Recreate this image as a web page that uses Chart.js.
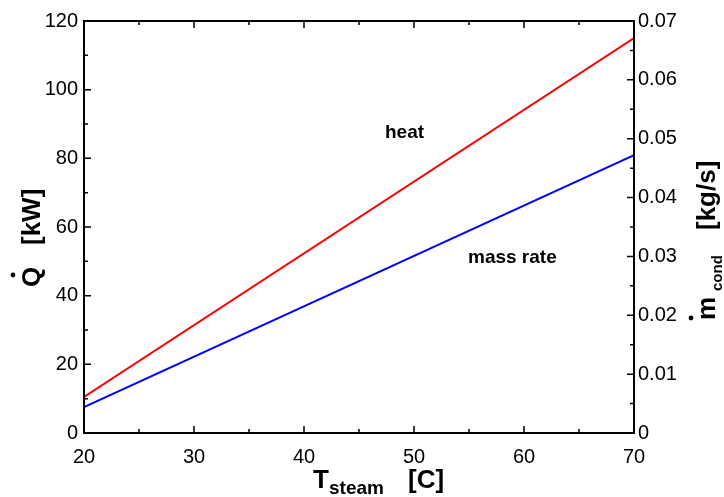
<!DOCTYPE html>
<html>
<head>
<meta charset="utf-8">
<script src="https://cdn.jsdelivr.net/npm/chart.js@4.4.0/dist/chart.umd.min.js"></script>
<style>
  html, body { margin: 0; padding: 0; background: #fff; }
  canvas { display: block; }
</style>
</head>
<body>
<canvas id="steamChart" width="724" height="497"></canvas>
<script>
// data
const tSteam = [20, 70];
const heatKW = [10.5, 115];
const massRate = [0.0044, 0.0472];

// tick labels
const xTicks = [20, 30, 40, 50, 60, 70];
const qTicks = [0, 20, 40, 60, 80, 100, 120];
const mTicks = [0, 0.01, 0.02, 0.03, 0.04, 0.05, 0.06, 0.07];

const FONT = '"Liberation Sans", Arial, sans-serif';

function setTicks(list) {
  return function (scale) {
    scale.ticks = list.map(v => ({ value: v }));
  };
}

// frame with inward ticks, minor ticks halfway between the major ones
const framePlugin = {
  id: 'frame',
  afterDatasetsDraw(chart) {
    const ctx = chart.ctx;
    const a = chart.chartArea;
    const sx = chart.scales.x, sq = chart.scales.y, sm = chart.scales.y2;
    const major = 7, minor = 4;
    ctx.save();
    ctx.strokeStyle = '#000';
    ctx.lineWidth = 2;
    ctx.strokeRect(a.left, a.top, a.right - a.left, a.bottom - a.top);
    ctx.lineWidth = 1.5;
    ctx.beginPath();
    function marks(list, fn) {
      list.forEach((v, i) => {
        fn(v, major);
        if (i < list.length - 1) fn((v + list[i + 1]) / 2, minor);
      });
    }
    marks(xTicks, (v, len) => {
      const px = sx.getPixelForValue(v);
      ctx.moveTo(px, a.bottom); ctx.lineTo(px, a.bottom - len);
      ctx.moveTo(px, a.top); ctx.lineTo(px, a.top + len);
    });
    marks(qTicks, (v, len) => {
      const py = sq.getPixelForValue(v);
      ctx.moveTo(a.left, py); ctx.lineTo(a.left + len, py);
    });
    marks(mTicks, (v, len) => {
      const py = sm.getPixelForValue(v);
      ctx.moveTo(a.right, py); ctx.lineTo(a.right - len, py);
    });
    ctx.stroke();
    ctx.restore();
  }
};

// axis titles with subscripts and dots, plus the two line labels
const textPlugin = {
  id: 'texts',
  afterDraw(chart) {
    const ctx = chart.ctx;
    ctx.save();
    ctx.fillStyle = '#000';
    ctx.textBaseline = 'alphabetic';
    ctx.textAlign = 'left';

    // x title
    ctx.font = 'bold 26px ' + FONT;
    ctx.fillText('T', 313, 488);
    ctx.font = 'bold 19px ' + FONT;
    ctx.fillText('steam', 329, 494);
    ctx.font = 'bold 26px ' + FONT;
    ctx.fillText('[C]', 408, 488);

    // left title, rotated
    ctx.save();
    ctx.translate(40, 287);
    ctx.rotate(-Math.PI / 2);
    ctx.font = 'bold 26px ' + FONT;
    ctx.fillText('Q', 0, 0);
    ctx.fillText('[kW]', 42, 0);
    ctx.beginPath();
    ctx.arc(12, -27, 2.4, 0, Math.PI * 2);
    ctx.fill();
    ctx.restore();

    // right title, rotated
    ctx.save();
    ctx.translate(715, 320);
    ctx.rotate(-Math.PI / 2);
    ctx.font = 'bold 26px ' + FONT;
    ctx.fillText('m', 0, 0);
    ctx.font = 'bold 15px ' + FONT;
    ctx.fillText('cond', 29, 7);
    ctx.font = 'bold 26px ' + FONT;
    ctx.fillText('[kg/s]', 90, 0);
    ctx.beginPath();
    ctx.arc(2, -24, 2.4, 0, Math.PI * 2);
    ctx.fill();
    ctx.restore();

    // line labels
    ctx.font = 'bold 19px ' + FONT;
    ctx.fillText('heat', 385, 138);
    ctx.fillText('mass rate', 468, 263);
    ctx.restore();
  }
};

new Chart(document.getElementById('steamChart'), {
  type: 'line',
  data: {
    datasets: [{
      label: 'heat',
      data: tSteam.map((t, i) => ({ x: t, y: heatKW[i] })),
      borderColor: '#ff0000',
      borderWidth: 2,
      pointRadius: 0,
      yAxisID: 'y'
    }, {
      label: 'mass rate',
      data: tSteam.map((t, i) => ({ x: t, y: massRate[i] })),
      borderColor: '#0000ff',
      borderWidth: 2,
      pointRadius: 0,
      yAxisID: 'y2'
    }]
  },
  options: {
    responsive: false,
    animation: false,
    layout: { padding: { top: 21, left: 0, right: 0, bottom: 0 } },
    plugins: {
      legend: { display: false },
      tooltip: { enabled: false }
    },
    scales: {
      x: {
        type: 'linear',
        min: 20,
        max: 70,
        afterBuildTicks: setTicks(xTicks),
        afterFit(scale) { scale.height = 64; },
        grid: { display: false, drawTicks: false },
        border: { display: false },
        ticks: { color: '#000', padding: 12, font: { family: FONT, size: 20 } }
      },
      y: {
        position: 'left',
        min: 0,
        max: 120,
        afterBuildTicks: setTicks(qTicks),
        afterFit(scale) { scale.width = 84; },
        grid: { display: false, drawTicks: false },
        border: { display: false },
        ticks: { color: '#000', padding: 6, font: { family: FONT, size: 20 } }
      },
      y2: {
        position: 'right',
        min: 0,
        max: 0.07,
        afterBuildTicks: setTicks(mTicks),
        afterFit(scale) { scale.width = 90; },
        grid: { display: false, drawTicks: false },
        border: { display: false },
        ticks: {
          color: '#000',
          padding: 4,
          font: { family: FONT, size: 20 },
          callback: v => v === 0 ? '0' : v.toFixed(2)
        }
      }
    }
  },
  plugins: [framePlugin, textPlugin]
});
</script>
</body>
</html>
